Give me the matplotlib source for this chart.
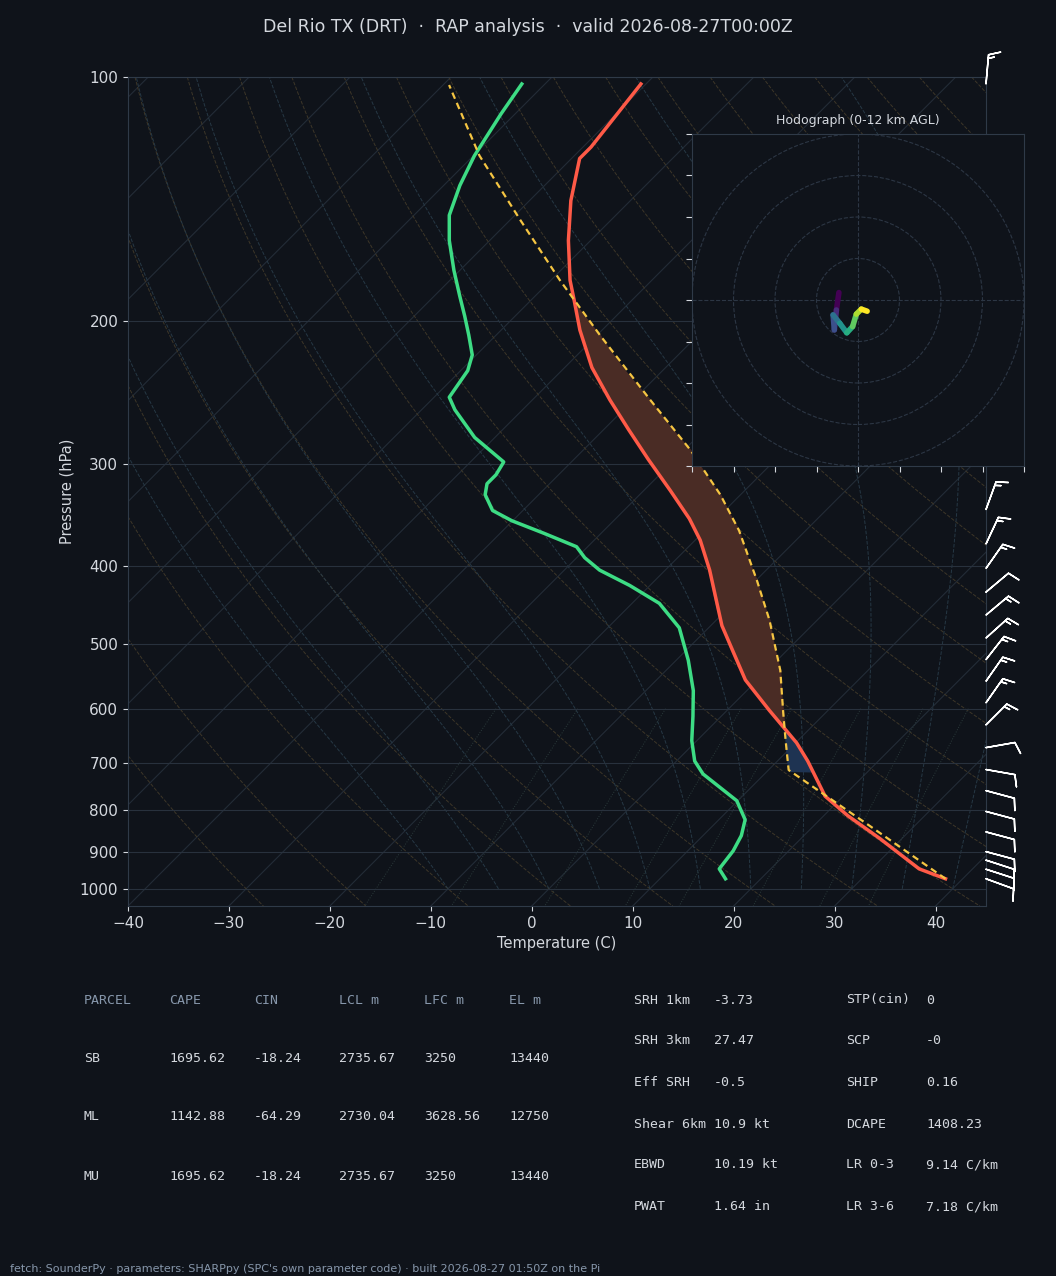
import numpy as np
import matplotlib
matplotlib.use("Agg")
import matplotlib.pyplot as plt
from matplotlib.collections import LineCollection

# ---------------- data ----------------
temp_p = [102, 122, 126, 142, 159, 178, 188, 205, 228, 250, 272, 296, 323, 350, 372, 405,
          474, 553, 603, 661, 696, 769, 813, 867, 945, 972]
temp_t = [-70.5, -69.2, -69.2, -65.9, -62.2, -58.1, -55.8, -52.2, -47.3, -42.3, -37.5, -32.6,
          -27.4, -22.7, -19.5, -15.6, -8.9, -1.2, 4.2, 10.1, 13.0, 18.2, 22.4, 27.8, 34.7, 38.3]

dew_p = [102, 111, 125, 136, 148, 159, 173, 186, 197, 208, 220, 230, 248, 257, 278, 298, 309,
         317, 327, 342, 352, 365, 379, 391, 405, 423, 445, 477, 523, 570, 613, 657, 696, 722,
         749, 779, 822, 860, 898, 945, 972]
dew_t = [-82.3, -81.4, -79.9, -78.4, -76.5, -74.0, -70.6, -67.5, -65.0, -62.7, -60.4, -59.3,
         -58.5, -56.7, -52.0, -46.7, -46.2, -46.2, -45.3, -43.0, -40.1, -35.6, -31.1, -29.2,
         -26.5, -22.0, -17.3, -12.9, -8.8, -5.3, -2.8, -0.5, 1.8, 3.9, 6.8, 9.9, 12.6, 13.8,
         14.5, 14.9, 16.5]

parcel_p = [972, 836, 714, 657, 607, 538, 467, 417, 362, 327, 288, 250, 208, 178, 150, 125, 102.3]
parcel_t = [38.3, 25.5, 12.0, 8.8, 5.8, 1.3, -4.7, -9.9, -16.6, -22.0, -29.4, -38.3, -49.7,
            -59.1, -69.0, -79.4, -89.4]

hodo_u = [-4.6, -5.2, -5.7, -6.0, -4.4, -2.7, -1.3, -0.4, 0.8, 2.2]
hodo_v = [1.8, -2.4, -7.2, -3.6, -5.6, -7.9, -6.4, -3.4, -2.2, -2.7]
hodo_z = [0.0, 1.3, 2.6, 4.0, 5.3, 6.6, 8.0, 9.3, 10.6, 12.0]

barb_p = [102, 341, 376, 403, 431, 460, 491, 522, 555, 590, 628, 670, 713, 757, 803, 851, 900, 922, 946, 972]
barb_dir = [5, 20, 25, 35, 50, 50, 48, 38, 35, 35, 45, 80, 100, 105, 105, 105, 105, 108, 108, 110]
barb_spd = [15, 15, 15, 15, 10, 15, 15, 15, 15, 15, 15, 10, 10, 10, 10, 10, 10, 10, 10, 10]

title = "Del Rio TX (DRT)  ·  RAP analysis  ·  valid 2026-08-27T00:00Z"
parcel_header = ["PARCEL", "CAPE", "CIN", "LCL m", "LFC m", "EL m"]
parcel_rows = [["SB", "1695.62", "-18.24", "2735.67", "3250", "13440"],
               ["ML", "1142.88", "-64.29", "2730.04", "3628.56", "12750"],
               ["MU", "1695.62", "-18.24", "2735.67", "3250", "13440"]]
params_left = [("SRH 1km", "-3.73"), ("SRH 3km", "27.47"), ("Eff SRH", "-0.5"),
               ("Shear 6km", "10.9 kt"), ("EBWD", "10.19 kt"), ("PWAT", "1.64 in")]
params_right = [("STP(cin)", "0"), ("SCP", "-0"), ("SHIP", "0.16"),
                ("DCAPE", "1408.23"), ("LR 0-3", "9.14 C/km"), ("LR 3-6", "7.18 C/km")]
footer = "fetch: SounderPy · parameters: SHARPpy (SPC's own parameter code) · built 2026-08-27 01:50Z on the Pi"

# ---------------- style ----------------
BG = "#0f131a"
FG = "#d4d8de"
HDR = "#8797ab"
GRID = "#28313d"
SKEW = 80.3
P0 = 1050.0

def sx(t, p):
    return np.asarray(t) + SKEW * np.log10(P0 / np.asarray(p))

fig = plt.figure(figsize=(10.56, 12.76), dpi=100, facecolor=BG)
ax = fig.add_axes([128/1056, 1-906/1276, 858/1056, 829/1276])
ax.set_facecolor(BG)
ax.set_yscale("log")
ax.set_ylim(P0, 100)
ax.set_xlim(-40, 45)

# background lines
pp = np.logspace(np.log10(100), np.log10(P0), 200)
for t0 in range(-160, 60, 10):
    ax.plot(sx(np.full_like(pp, t0), pp), pp, color="#232c37", lw=0.8, zorder=1)
for th in range(-30, 230, 10):
    T = (th + 273.15) * (pp / 1000.0) ** 0.2857 - 273.15
    ax.plot(sx(T, pp), pp, color="#3d3628", lw=0.7, ls="--", zorder=1)

def es(T):
    return 6.112 * np.exp(17.67 * T / (T + 243.5))

def moist(t0):
    ps = np.linspace(1000, 100, 400)
    T = [t0]
    for i in range(1, len(ps)):
        Tk = T[-1] + 273.15
        rs = 0.622 * es(T[-1]) / (ps[i-1] - es(T[-1]))
        Lv = 2.501e6
        num = (287.0 * Tk + Lv * rs) / ps[i-1]
        den = 1004.0 + (Lv * Lv * rs * 0.622) / (287.0 * Tk * Tk)
        T.append(T[-1] + num / den * (ps[i] - ps[i-1]))
    return ps, np.array(T)

for t0 in range(-10, 45, 5):
    ps, T = moist(t0)
    ax.plot(sx(T, ps), ps, color="#263845", lw=0.7, ls="--", zorder=1)

pm = np.linspace(600, P0, 50)
for w in [1, 2, 4, 7, 10, 16, 24, 32]:
    e = pm * (w / 1000.0) / (0.622 + w / 1000.0)
    Td = 243.5 * np.log(e / 6.112) / (17.67 - np.log(e / 6.112))
    ax.plot(sx(Td, pm), pm, color="#2a3a3a", lw=0.7, ls=":", zorder=1)

for p in range(100, 1001, 100):
    ax.axhline(p, color=GRID, lw=0.8, zorder=1)

# CAPE / CIN fills
pg = np.linspace(972, 175, 800)
tp = np.interp(pg, parcel_p[::-1], parcel_t[::-1])
te = np.interp(pg, temp_p, temp_t)
xp, xe = sx(tp, pg), sx(te, pg)
ax.fill_betweenx(pg, xe, xp, where=(tp >= te) & (pg < 660), color="#4a2c25", zorder=2, interpolate=True)
ax.fill_betweenx(pg, xe, xp, where=(tp <= te) & (pg < 716) & (pg > 600), color="#1e3352", zorder=2, interpolate=True)

ax.plot(sx(temp_t, temp_p), temp_p, color="#ff5a47", lw=2.5, zorder=4)
ax.plot(sx(dew_t, dew_p), dew_p, color="#3ddc84", lw=2.5, zorder=4)
ax.plot(sx(parcel_t, parcel_p), parcel_p, color="#f5c542", lw=1.6, ls=(0, (3, 2)), zorder=5)

ax.set_yticks(range(100, 1001, 100))
ax.set_yticklabels([str(p) for p in range(100, 1001, 100)])
ax.yaxis.set_minor_locator(matplotlib.ticker.NullLocator())
ax.set_xticks(range(-40, 41, 10))
ax.tick_params(colors=FG, labelsize=11)
ax.set_xlabel("Temperature (C)", color=FG, fontsize=10.5)
ax.set_ylabel("Pressure (hPa)", color=FG, fontsize=10.5)
for s in ax.spines.values():
    s.set_color("#2f3a48")

# wind barbs
d = np.radians(barb_dir)
bu = -np.array(barb_spd) * np.sin(d)
bv = -np.array(barb_spd) * np.cos(d)
ax.barbs(np.full(len(barb_p), 45.0), barb_p, bu, bv, color="white", length=6.5,
         lw=1.1, clip_on=False, zorder=6)

fig.text(0.5, 1-27/1276, title, color=FG, fontsize=12.5, ha="center", va="center")

# hodograph
hx = fig.add_axes([692/1056, 1-466/1276, 332/1056, 332/1276])
hx.set_facecolor(BG)
hx.set_xlim(-40, 40)
hx.set_ylim(-40, 40)
for r in [10, 20, 30, 40]:
    hx.add_patch(plt.Circle((0, 0), r, fill=False, ls="--", color="#2c3644", lw=0.8))
hx.axhline(0, color="#2c3644", ls="--", lw=0.8)
hx.axvline(0, color="#2c3644", ls="--", lw=0.8)
pts = np.array([hodo_u, hodo_v]).T.reshape(-1, 1, 2)
segs = np.concatenate([pts[:-1], pts[1:]], axis=1)
lc = LineCollection(segs, cmap="viridis", lw=4, zorder=3, capstyle="round")
lc.set_array(np.array(hodo_z[:-1]))
hx.add_collection(lc)
hx.set_xticks(range(-40, 41, 10))
hx.set_yticks(range(-40, 41, 10))
hx.set_xticklabels([])
hx.set_yticklabels([])
hx.tick_params(colors=FG, length=4)
for s in hx.spines.values():
    s.set_color("#2f3a48")
hx.set_title("Hodograph (0-12 km AGL)", color=FG, fontsize=9, pad=7)

# tables
mono = "DejaVu Sans Mono"
cols = [84, 169, 254, 339, 424, 509]
for x, h in zip(cols, parcel_header):
    fig.text(x/1056, 1-1000/1276, h, color=HDR, fontsize=9.5, family=mono, va="center")
for y, row in zip([1058, 1117, 1176], parcel_rows):
    for x, v in zip(cols, row):
        fig.text(x/1056, 1-y/1276, v, color=FG, fontsize=9.5, family=mono, va="center")
ys = [1000, 1041, 1083, 1124, 1165, 1207]
for y, (a, b), (c, e) in zip(ys, params_left, params_right):
    fig.text(634/1056, 1-y/1276, a, color=FG, fontsize=9.5, family=mono, va="center")
    fig.text(714/1056, 1-y/1276, b, color=FG, fontsize=9.5, family=mono, va="center")
    fig.text(846/1056, 1-y/1276, c, color=FG, fontsize=9.5, family=mono, va="center")
    fig.text(926/1056, 1-y/1276, e, color=FG, fontsize=9.5, family=mono, va="center")

fig.text(10/1056, 1-1269/1276, footer, color=HDR, fontsize=8, va="center")

fig.savefig("out.png", dpi=100, facecolor=BG)
